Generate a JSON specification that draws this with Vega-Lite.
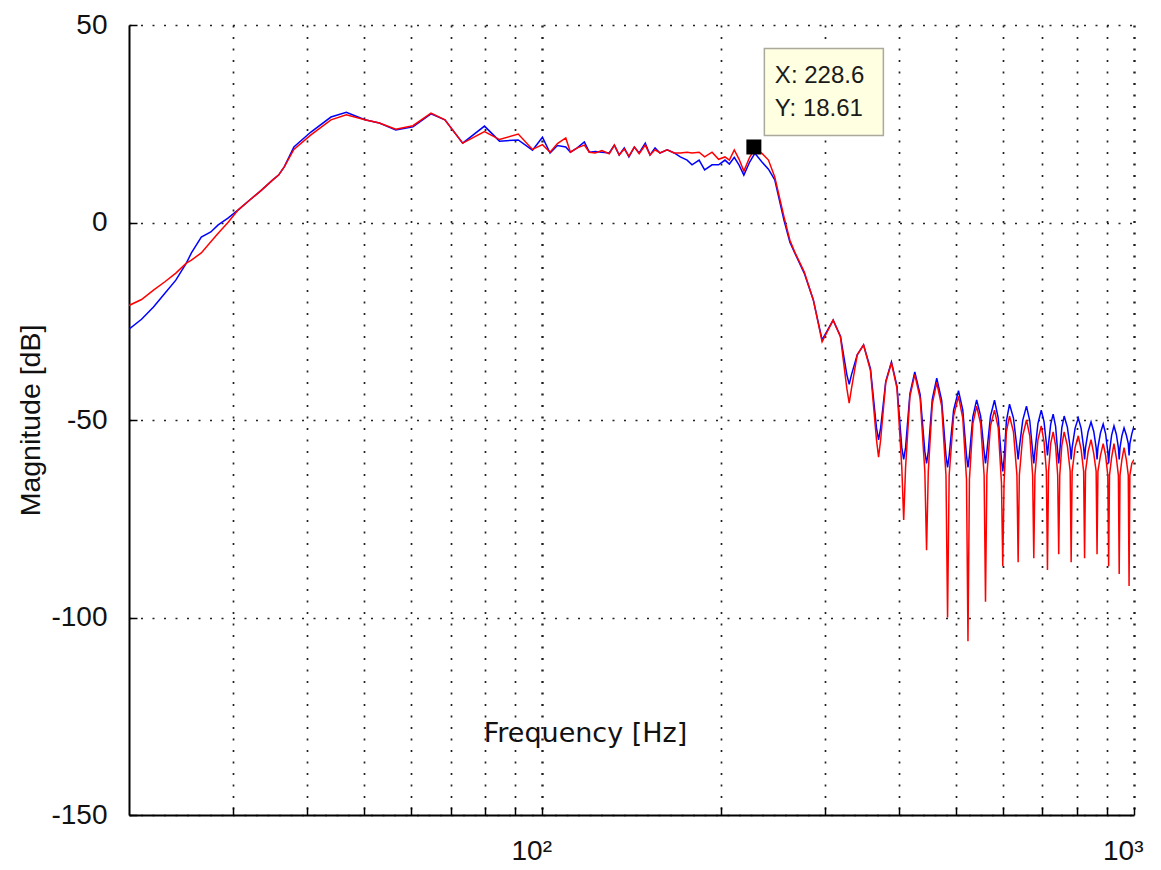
{
  "$schema": "https://vega.github.io/schema/vega-lite/v6.json",
  "width": 1005,
  "height": 790,
  "autosize": {"type": "none"},
  "padding": {"left": 129, "top": 25, "right": 27, "bottom": 55},
  "background": "white",
  "config": {"view": {"stroke": null}},
  "datasets": {
    "mag": [
      {"f":20,"b":-27,"r":-21},{"f":21,"b":-24.5,"r":-19.5},{"f":22,"b":-21.4,"r":-17.1},{"f":23,"b":-17.9,"r":-15},
      {"f":24,"b":-14.6,"r":-12.8},{"f":25,"b":-10.3,"r":-10.3},{"f":25.5,"b":-7.7,"r":-9.5},{"f":26.5,"b":-3.7,"r":-7.7},
      {"f":27.5,"b":-2.4,"r":-4.9},{"f":28.3,"b":-0.6,"r":-2.7},{"f":29.4,"b":1.1,"r":0},{"f":30.6,"b":3.2,"r":3.2},
      {"f":32,"b":5.7,"r":5.7},{"f":33.5,"b":8.2,"r":8.2},{"f":35,"b":10.8,"r":10.8},{"f":35.8,"b":12,"r":12},
      {"f":36.6,"b":14.1,"r":14.1},{"f":38,"b":19.1,"r":18.5},{"f":40.6,"b":22.9,"r":22.2},{"f":43.9,"b":26.7,"r":26},
      {"f":46.6,"b":27.9,"r":27.3},{"f":50.1,"b":26,"r":26},{"f":53,"b":25.2,"r":25.2},{"f":56.5,"b":23.4,"r":23.6},
      {"f":60.4,"b":24.2,"r":24.5},{"f":64.8,"b":27.5,"r":27.7},{"f":68.4,"b":26,"r":26},{"f":73.3,"b":20.1,"r":20.1},
      {"f":79.8,"b":24.4,"r":23},{"f":84.6,"b":20.6,"r":21},{"f":91,"b":20.9,"r":22.4},{"f":96.2,"b":18.3,"r":18.5},
      {"f":100,"b":21.6,"r":19.7},{"f":103,"b":17.6,"r":17.8},{"f":106,"b":19.5,"r":20},{"f":109.5,"b":19.1,"r":21.4},
      {"f":111.5,"b":17.8,"r":17.8},{"f":114.5,"b":18.9,"r":18.9},{"f":117.7,"b":20.4,"r":19.6},{"f":120,"b":17.8,"r":17.8},
      {"f":122.8,"b":18,"r":17.6},{"f":126,"b":17.8,"r":18.2},{"f":129.7,"b":17.6,"r":17.4},{"f":132.3,"b":19.6,"r":19.6},
      {"f":134.8,"b":17.1,"r":17.1},{"f":137.5,"b":18.9,"r":18.6},{"f":140,"b":16.6,"r":16.8},{"f":143,"b":19.1,"r":19.1},
      {"f":145.7,"b":17.6,"r":17.4},{"f":149.2,"b":20.1,"r":19.6},{"f":152,"b":17.1,"r":17.1},{"f":155,"b":18.9,"r":18.4},
      {"f":158,"b":17.6,"r":17.6},{"f":162.5,"b":18.4,"r":18.4},{"f":167,"b":17.6,"r":17.6},{"f":171,"b":16.6,"r":17.6},
      {"f":175.6,"b":15.8,"r":17.8},{"f":179,"b":14.6,"r":17.6},{"f":184,"b":15.8,"r":17.8},{"f":188,"b":13.3,"r":16.6},
      {"f":193.5,"b":14.6,"r":17.8},{"f":198.5,"b":14.6,"r":16},{"f":203.5,"b":15.8,"r":16.6},{"f":207,"b":14.8,"r":15.8},
      {"f":211,"b":16.5,"r":18.4},{"f":215,"b":14.5,"r":16},{"f":219,"b":12,"r":13},{"f":224,"b":15.3,"r":16.5},
      {"f":228.6,"b":17.5,"r":18.61},{"f":235,"b":15.3,"r":17.5},{"f":241,"b":13.5,"r":15.8},{"f":247,"b":10.8,"r":11.5},
      {"f":256,"b":0.6,"r":1.5},{"f":262,"b":-5,"r":-4.5},{"f":267,"b":-7.7,"r":-7.5},{"f":277,"b":-12.8,"r":-12.5},
      {"f":287,"b":-19.6,"r":-19.6},{"f":297,"b":-29.7,"r":-30.2},{"f":310,"b":-24.7,"r":-24.7},
      {"f":319,"b":-28.8,"r":-29},{"f":327,"b":-38.5,"r":-42},{"f":330,"b":-41,"r":-45.7},{"f":333,"b":-38.5,"r":-42},
      {"f":340.5,"b":-33.5,"r":-33.5},{"f":349,"b":-31,"r":-31},
      {"f":358.5,"b":-37,"r":-37.5},{"f":367,"b":-52,"r":-55},{"f":370,"b":-55,"r":-59.4},{"f":373,"b":-52,"r":-55},
      {"f":380.5,"b":-40.2,"r":-40.5},{"f":389,"b":-35.3,"r":-35.5},
      {"f":397.5,"b":-41.5,"r":-42},{"f":405,"b":-57,"r":-62},{"f":408,"b":-60,"r":-75.3},{"f":411,"b":-57,"r":-62},
      {"f":418,"b":-43.4,"r":-44},{"f":426,"b":-37.8,"r":-38.5},
      {"f":435,"b":-43.6,"r":-44.5},{"f":443,"b":-58,"r":-63},{"f":446,"b":-61,"r":-83},{"f":449,"b":-58,"r":-63},
      {"f":456,"b":-44.8,"r":-46},{"f":464,"b":-39.4,"r":-40.5},
      {"f":473,"b":-45,"r":-46.5},{"f":481,"b":-59,"r":-64},{"f":484,"b":-62,"r":-100},{"f":487,"b":-59,"r":-64},
      {"f":495.5,"b":-47.5,"r":-49},{"f":505,"b":-42.6,"r":-44},
      {"f":513.5,"b":-47.5,"r":-49.5},{"f":521,"b":-59,"r":-65},{"f":524,"b":-62,"r":-106},{"f":527,"b":-59,"r":-65},
      {"f":534,"b":-49.2,"r":-51},{"f":542,"b":-44.9,"r":-46.5},
      {"f":550.5,"b":-49,"r":-51},{"f":558,"b":-58,"r":-64},{"f":561,"b":-61,"r":-96},{"f":564,"b":-58,"r":-64},
      {"f":572,"b":-49,"r":-51.5},{"f":581,"b":-45,"r":-47.5},
      {"f":589.5,"b":-49.5,"r":-52},{"f":597,"b":-60,"r":-66},{"f":600,"b":-63,"r":-87},{"f":603,"b":-60,"r":-66},
      {"f":608.5,"b":-50.3,"r":-53},{"f":616,"b":-46,"r":-49},
      {"f":625.5,"b":-49.5,"r":-53},{"f":634,"b":-57,"r":-64},{"f":637,"b":-60,"r":-86},{"f":640,"b":-57,"r":-64},
      {"f":648.5,"b":-50.1,"r":-54},{"f":658,"b":-46.5,"r":-50},
      {"f":666.5,"b":-50.2,"r":-54},{"f":674,"b":-58,"r":-64},{"f":677,"b":-61,"r":-85},{"f":680,"b":-58,"r":-64},
      {"f":688,"b":-50.9,"r":-55},{"f":697,"b":-47.5,"r":-51.5},
      {"f":704.5,"b":-50.4,"r":-55.5},{"f":711,"b":-56,"r":-63},{"f":714,"b":-59,"r":-88},{"f":717,"b":-56,"r":-63},
      {"f":723,"b":-51.1,"r":-56},{"f":730,"b":-48.5,"r":-53},
      {"f":737,"b":-51.6,"r":-56.5},{"f":743,"b":-58,"r":-64},{"f":746,"b":-61,"r":-84},{"f":749,"b":-58,"r":-64},
      {"f":755,"b":-52,"r":-56.5},{"f":762,"b":-49,"r":-53},
      {"f":771.5,"b":-51.8,"r":-56.5},{"f":780,"b":-57,"r":-63},{"f":783,"b":-60,"r":-86},{"f":786,"b":-57,"r":-63},
      {"f":795,"b":-52.1,"r":-57},{"f":805,"b":-49.5,"r":-54},
      {"f":814,"b":-52.1,"r":-57.5},{"f":822,"b":-57,"r":-63},{"f":825,"b":-60,"r":-85},{"f":828,"b":-57,"r":-63},
      {"f":836.5,"b":-52.9,"r":-58},{"f":846,"b":-50.5,"r":-55},
      {"f":855,"b":-52.9,"r":-58.5},{"f":863,"b":-57,"r":-63},{"f":866,"b":-60,"r":-84},{"f":869,"b":-57,"r":-63},
      {"f":877.5,"b":-53.3,"r":-59},{"f":887,"b":-51,"r":-56},
      {"f":895.5,"b":-53.5,"r":-59},{"f":903,"b":-58,"r":-64},{"f":906,"b":-61,"r":-87},{"f":909,"b":-58,"r":-64},
      {"f":916.5,"b":-53.9,"r":-59.5},{"f":925,"b":-51.5,"r":-56},
      {"f":933.5,"b":-53.6,"r":-59.5},{"f":941,"b":-57,"r":-64},{"f":944,"b":-60,"r":-89},{"f":947,"b":-57,"r":-64},
      {"f":954,"b":-54,"r":-60},{"f":962,"b":-52,"r":-57},
      {"f":970.5,"b":-53.8,"r":-60},{"f":978,"b":-56,"r":-64},{"f":981,"b":-59,"r":-92},{"f":984,"b":-56,"r":-64},
      {"f":991.5,"b":-53.5,"r":-61},{"f":1000,"b":-51.5,"r":-60}
    ],
    "tip": [{"f":228.6,"db":18.61,"xl":"X: 228.6","yl":"Y: 18.61"}]
  },
  "layer": [
    {
      "data": {"name": "mag"},
      "transform": [{"fold": ["b","r"], "as": ["series","db"]}],
      "mark": {"type": "line", "strokeWidth": 1.5, "clip": true},
      "encoding": {
        "x": {
          "field": "f", "type": "quantitative",
          "scale": {"type": "log", "domain": [20, 1000], "nice": false},
          "axis": {
            "values": [30,40,50,60,70,80,90,100,200,300,400,500,600,700,800,900,1000],
            "labelExpr": "datum.value == 100 ? '10²' : (datum.value == 1000 ? '10³' : '')",
            "labelFont": "Liberation Sans", "labelFontSize": 28, "labelColor": "#111",
            "labelAlign": "right", "labelOffset": 9, "labelBaseline": "top", "labelPadding": 30,
            "labelFlush": false, "labelOverlap": false, "labelBound": false,
            "tickSize": -8, "tickColor": "#000", "tickWidth": 1.5,
            "domainColor": "#000", "domainWidth": 2,
            "grid": true, "gridColor": "#222", "gridDash": [2, 9.5],
            "gridWidth": {"condition": {"test": "datum.value == 100 || datum.value == 1000", "value": 2.4}, "value": 1.7},
            "title": "Frequency [Hz]",
            "titleFont": "DejaVu Sans", "titleFontSize": 27, "titleFontWeight": "normal", "titleColor": "#111",
            "titleX": 456, "titleY": -82, "titleAlign": "center", "titleBaseline": "middle", "titleAngle": 0
          }
        },
        "y": {
          "field": "db", "type": "quantitative",
          "scale": {"domain": [-150, 50], "nice": false, "zero": false},
          "axis": {
            "values": [-150,-100,-50,0,50],
            "labelExpr": "datum.value + ''",
            "labelFont": "Liberation Sans", "labelFontSize": 28, "labelColor": "#111",
            "labelPadding": 30, "labelFlush": false, "labelOverlap": false, "labelBound": false,
            "tickSize": -8, "tickColor": "#000", "tickWidth": 1.5,
            "domainColor": "#000", "domainWidth": 2,
            "grid": true, "gridColor": "#222", "gridDash": [2, 9.5], "gridWidth": 1.7,
            "title": "Magnitude [dB]",
            "titleFont": "Liberation Sans", "titleFontSize": 28.5, "titleFontWeight": "normal", "titleColor": "#111",
            "titleX": -99, "titleY": 395, "titleAngle": -90, "titleAlign": "center", "titleBaseline": "middle"
          }
        },
        "color": {
          "field": "series", "type": "nominal",
          "scale": {"domain": ["b","r"], "range": ["#0000ff","#ff0000"]},
          "legend": null
        }
      }
    },
    {
      "data": {"name": "tip"},
      "mark": {
        "type": "point",
        "shape": "M -1 -0.731 L 1 -0.731 L 1 0.731 L -1 0.731 Z",
        "size": 14161, "filled": true, "fill": "#ffffe1", "stroke": "#a9a99c", "strokeWidth": 1.5,
        "opacity": 1, "xOffset": 69, "yOffset": -57
      },
      "encoding": {
        "x": {"field": "f", "type": "quantitative"},
        "y": {"field": "db", "type": "quantitative"}
      }
    },
    {
      "data": {"name": "tip"},
      "mark": {"type": "square", "size": 225, "filled": true, "color": "#000", "opacity": 1, "xOffset": -1, "yOffset": -2},
      "encoding": {
        "x": {"field": "f", "type": "quantitative"},
        "y": {"field": "db", "type": "quantitative"}
      }
    },
    {
      "data": {"name": "tip"},
      "mark": {"type": "text", "align": "left", "baseline": "middle", "font": "Liberation Sans", "fontSize": 24, "color": "#1a1a1a", "xOffset": 20, "yOffset": -73},
      "encoding": {
        "x": {"field": "f", "type": "quantitative"},
        "y": {"field": "db", "type": "quantitative"},
        "text": {"field": "xl"}
      }
    },
    {
      "data": {"name": "tip"},
      "mark": {"type": "text", "align": "left", "baseline": "middle", "font": "Liberation Sans", "fontSize": 24, "color": "#1a1a1a", "xOffset": 20, "yOffset": -40},
      "encoding": {
        "x": {"field": "f", "type": "quantitative"},
        "y": {"field": "db", "type": "quantitative"},
        "text": {"field": "yl"}
      }
    }
  ]
}
